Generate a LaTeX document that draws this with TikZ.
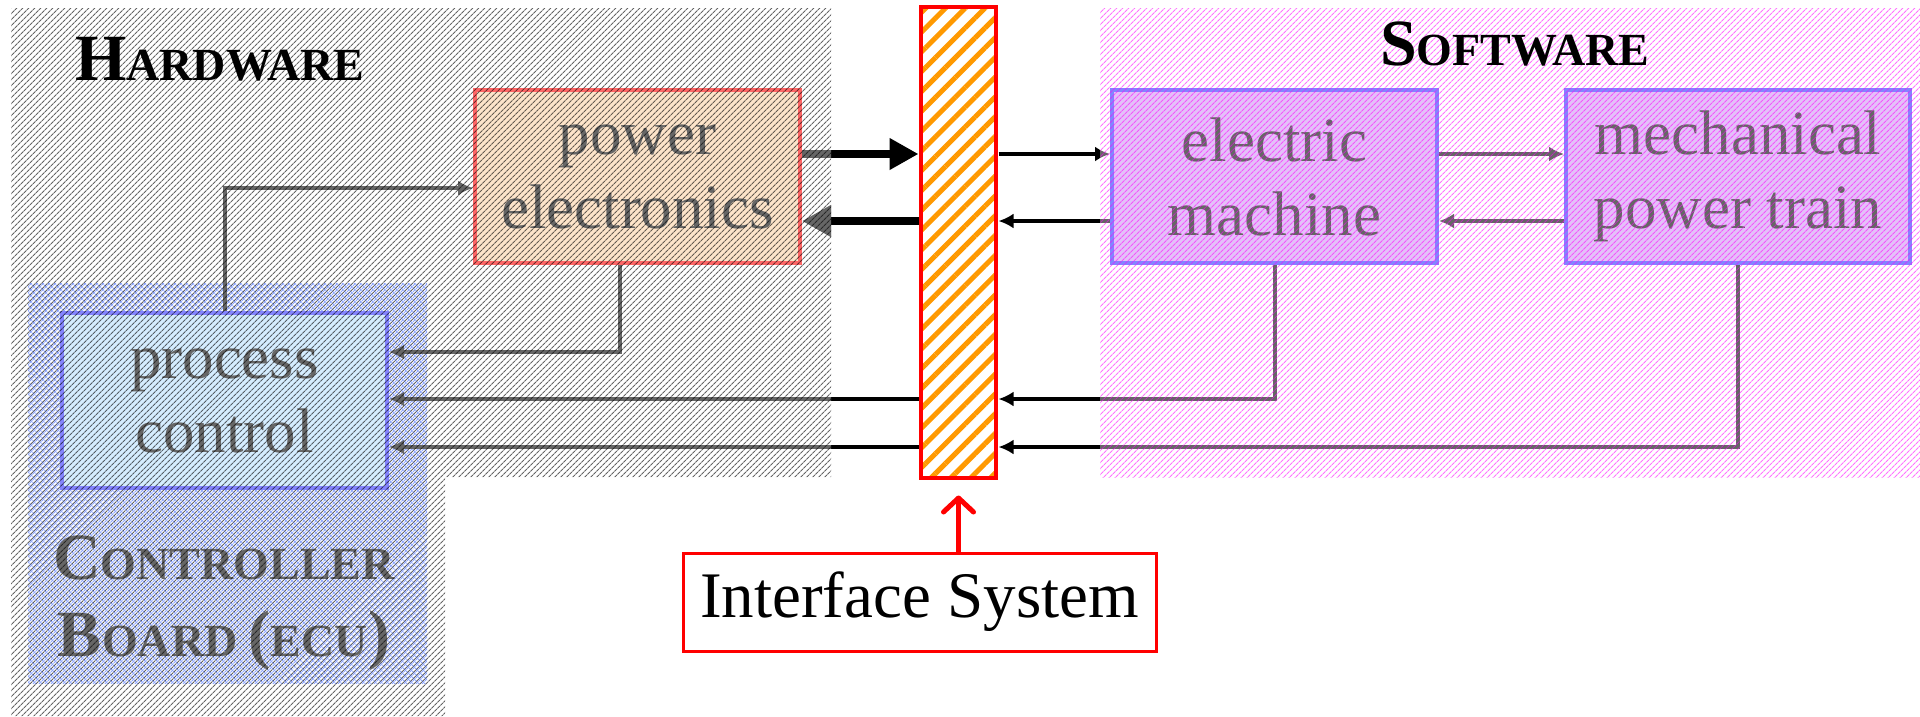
\documentclass[tikz,border=0pt]{standalone}
\usepackage{fontspec}
\setmainfont{Liberation Serif}
\usetikzlibrary{positioning, arrows.meta, patterns.meta}

\definecolor{peach}{RGB}{252,210,168}
\definecolor{pcblue}{RGB}{185,225,255}
\definecolor{emviolet}{RGB}{210,150,245}
\definecolor{ifaceorange}{RGB}{255,153,0}
\definecolor{ecublue}{RGB}{70,110,255}

\newcommand{\bigini}[1]{{\fontsize{66}{77}\selectfont#1}}
\def\hwarea{(11,8) -- (831,8) -- (831,477) -- (445,477) -- (445,716) -- (11,716) -- cycle}
\def\swarea{(1100,8) rectangle (1920,477)}

\begin{document}
\begin{tikzpicture}[
  x=1pt, y=-1pt,
  block/.style={draw, line width=4pt, align=center, inner sep=0pt,
                minimum width=325pt, minimum height=173pt,
                font=\fontsize{63}{74}\selectfont},
  title/.style={font=\bfseries\fontsize{46}{77}\selectfont, inner sep=0pt, align=center},
  conn/.style={line width=4pt, -{Latex[length=15pt, width=15pt]}},
  bigconn/.style={line width=8.5pt, -{Triangle[length=29pt, width=30pt]}},
  hatch/.style={pattern={Lines[angle=#1, distance=4pt, line width=1.15pt]}},
  hatch/.default=45
]
\useasboundingbox (0,0) rectangle (1920,716);

% controller board background
\path[hatch=45, pattern color=ecublue] (28,283) rectangle (427,683);
\path[hatch=-45, pattern color=ecublue] (28,283) rectangle (427,683);

% blocks
\node[block, draw=red, fill=peach] (pe) at (637.5,176.5) {power\\electronics};
\node[block, draw=blue!80, fill=pcblue, minimum height=175pt] (pc) at (224.5,400.5) {process\\control};
\node[block, draw=blue!80, fill=emviolet] (em) at (1274.5,176.5) {electric\\machine};
\node[block, draw=blue!80, fill=emviolet, minimum width=344pt, right=125pt of em] (mpt) {mechanical\\power train};

\node[draw=red, line width=4.5pt, minimum width=75pt, minimum height=471pt, inner sep=0pt,
      preaction={fill=white}, pattern={Lines[angle=45, distance=14pt, line width=5pt]},
      pattern color=ifaceorange] (bar) at (958.5,242.5) {};
\node[draw=red, line width=3pt, fill=white, minimum width=473pt, minimum height=98pt,
      inner sep=0pt, font=\fontsize{65}{78}\selectfont] (iface) at (919.5,602) {Interface System};

\node[title] (ecu) at (224,603) {\bigini{C}ONTROLLER\\\bigini{B}OARD \bigini{(}ECU\bigini{)}};

% signal levels
\coordinate (up) at (0,188);
\coordinate (hi) at (0,154);
\coordinate (lo) at (0,221);
\coordinate (fbA) at (0,352);
\coordinate (fbB) at (0,399);
\coordinate (fbC) at (0,447);
\coordinate (drop) at (620,0);

\draw[conn] (pc.north) |- (pe.west |- up);
\draw[conn] (drop |- pe.south) |- (pc.east |- fbA);
\draw[bigconn] (pe.east |- hi) -- (bar.west |- hi);
\draw[bigconn] (bar.west |- lo) -- (pe.east |- lo);

\foreach \a/\b in {bar/em, em/mpt}
  \draw[conn] (\a.east |- hi) -- (\b.west |- hi);
\foreach \a/\b in {em/bar, mpt/em}
  \draw[conn] (\a.west |- lo) -- (\b.east |- lo);

\draw[conn] (em.south) |- (bar.east |- fbB);
\draw[conn] (mpt.south) |- (bar.east |- fbC);
\foreach \y in {fbB, fbC}
  \draw[conn] (bar.west |- \y) -- (pc.east |- \y);

\draw[red, line width=5pt, -{Straight Barb[length=14pt, width=30pt, line cap=round, line join=round]}]
  (iface.north -| bar.south) -- ([yshift=-15pt]bar.south);

% hardware / software overlays
\fill[white, fill opacity=0.4] \hwarea;
\path[hatch, pattern color=black, fill opacity=0.6] \hwarea;
\fill[white, fill opacity=0.4] \swarea;
\path[hatch, pattern color=magenta, fill opacity=0.55] \swarea;

\node[title, anchor=base west] (hw) at (75,80) {\bigini{H}ARDWARE};
\node[title, anchor=base west] (sw) at (1380,65) {\bigini{S}OFTWARE};

\end{tikzpicture}
\end{document}
